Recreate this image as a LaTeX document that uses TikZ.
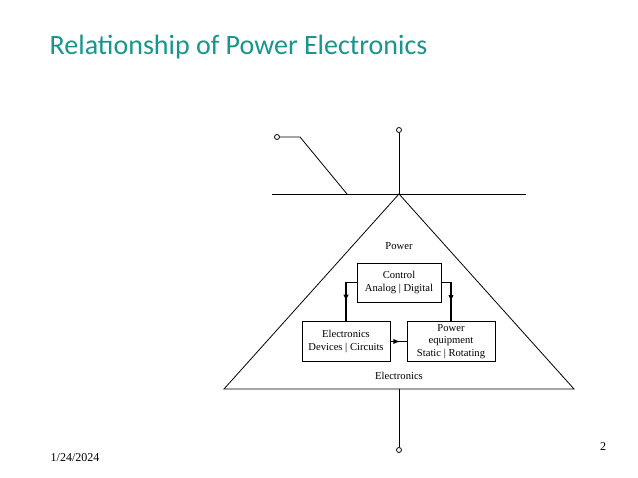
\documentclass[tikz,border=0pt]{standalone}
\usepackage{fontspec}
\setmainfont{Liberation Serif}
\newfontfamily\titlefont{Carlito}
\usetikzlibrary{decorations.markings}
\definecolor{titleteal}{RGB}{22,150,140}
\begin{document}
\begin{tikzpicture}[x=1pt,y=-1pt, line width=0.8pt,
  box/.style = {draw, minimum width=88pt, minimum height=40pt, inner sep=1pt,
    align=center, font=\fontsize{10.6}{12.5}\selectfont},
  lbl/.style = {font=\fontsize{10.6}{12}\selectfont},
  term/.style = {draw, circle, inner sep=0pt, minimum size=5pt, fill=white},
  flow/.style = {line width=1.3pt, decoration={markings, mark=at position #1 with {\arrow{latex}}},
    postaction=decorate}]
  \useasboundingbox (0,0) rectangle (638,478);
  \node[anchor=west, font=\titlefont\fontsize{28}{32}\selectfont, text=titleteal]
    (title) at (46,47) {Relationship of Power Electronics};
  % supply lines
  \coordinate (apex) at (399,194);
  \coordinate (busl) at (272,194);
  \coordinate (busr) at (526,194);
  \coordinate (tl) at (224,389);
  \coordinate (tr) at (574,389);
  \coordinate (sw) at (347,194);
  \coordinate (swk) at (300,137);
  \coordinate (bot) at (399,389);
  \draw (busl) -- (busr);
  \draw (tl) -- (apex) -- (tr) -- cycle;
  \node[term] (ttop) at (399,130) {};
  \node[term] (tsw) at (277,137) {};
  \node[term] (tbot) at (399,450) {};
  \draw (ttop) -- (apex);
  \draw (tsw) -- (swk) -- (sw);
  \draw (bot) -- (tbot);
  % blocks
  \node[lbl] (power) at (399,246) {Power};
  \node[box, minimum width=84pt, minimum height=39pt] (ctrl) at (399,282.5) {Control\\Analog | Digital};
  \node[box] (elec) at (346,341.5) {Electronics\\Devices | Circuits};
  \node[box] (peq) at (451,341.5) {Power\\equipment\\Static | Rotating};
  \node[lbl] (electr) at (399,376) {Electronics};
  % connections
  \draw[flow=0.6] (ctrl.west) -| (elec.north);
  \draw[flow=0.6] (ctrl.east) -| (peq.north);
  \draw[flow=0.6] (elec.east) -- (peq.west);
  \node[anchor=west, font=\fontsize{12}{14}\selectfont] (date) at (47,458) {1/24/2024};
  \node[font=\fontsize{12}{14}\selectfont] (page) at (603,447) {2};
\end{tikzpicture}
\end{document}
